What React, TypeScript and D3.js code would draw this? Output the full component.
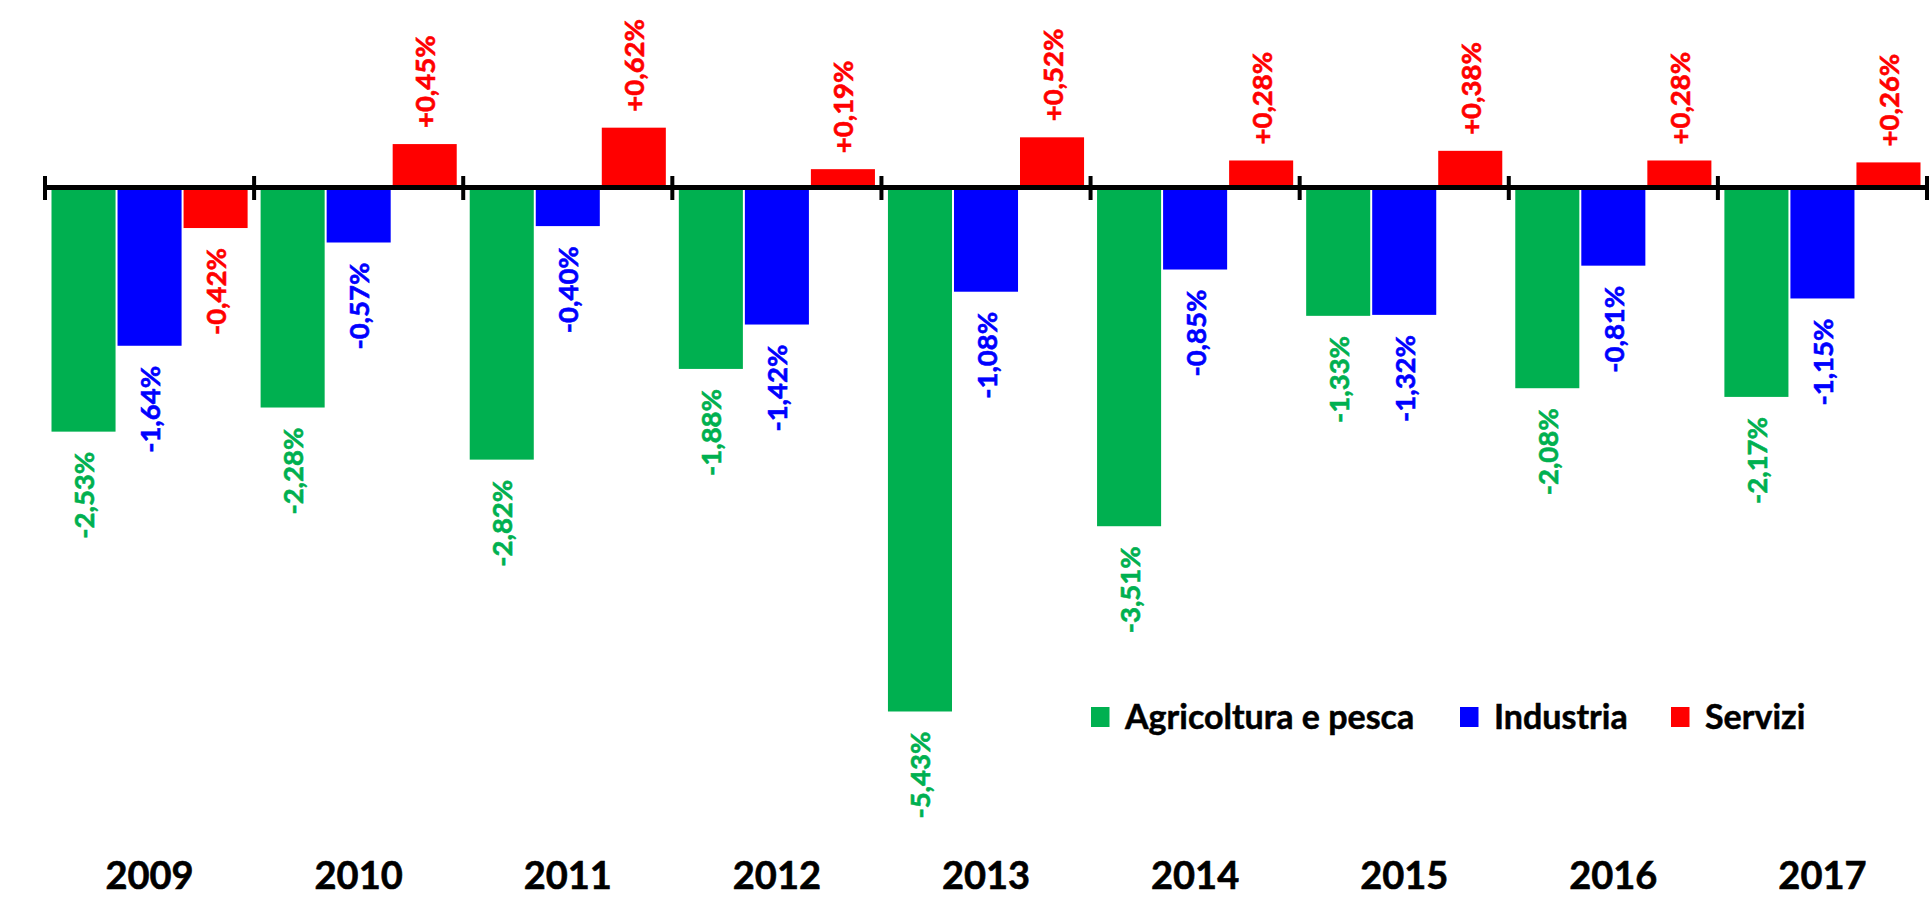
import React from "react";
import * as d3 from "d3";

const years = ["2009", "2010", "2011", "2012", "2013", "2014", "2015", "2016", "2017"];
const seriesNames = ["Agricoltura e pesca", "Industria", "Servizi"];
const seriesColors = ["#00B050", "#0000FF", "#FF0000"];
const agricoltura = [-2.53, -2.28, -2.82, -1.88, -5.43, -3.51, -1.33, -2.08, -2.17];
const industria = [-1.64, -0.57, -0.40, -1.42, -1.08, -0.85, -1.32, -0.81, -1.15];
const servizi = [-0.42, 0.45, 0.62, 0.19, 0.52, 0.28, 0.38, 0.28, 0.26];

const W = 1930;
const H = 913;
const FONT = "Lato, 'Open Sans', sans-serif";

function fmt(v: number) {
  return (v > 0 ? "+" : "-") + Math.abs(v).toFixed(2).replace(".", ",") + "%";
}

export default function App() {
  const series = [agricoltura, industria, servizi];
  const x0 = d3.scaleBand<string>().domain(years).range([45, 1927]).padding(0);
  const bw = x0.bandwidth();
  const x1 = d3
    .scaleBand<number>()
    .domain([0, 1, 2])
    .range([6.5, bw - 6.5])
    .paddingInner(0.03)
    .paddingOuter(0);
  const zeroY = 187.5;
  const pxPer = 96.5;
  const y = d3
    .scaleLinear()
    .domain([-6, 1.8])
    .range([zeroY + 6 * pxPer, zeroY - 1.8 * pxPer]);

  const tickXs = years.map((yr) => x0(yr) as number).concat([(x0(years[years.length - 1]) as number) + bw]);

  const legendX = [1091, 1460, 1671];

  return (
    <div style={{ position: "absolute", left: 0, top: 0 }}>
      <svg width={W} height={H} style={{ display: "block" }} fontFamily={FONT}>
        <rect x={0} y={0} width={W} height={H} fill="#ffffff" />
        {years.map((yr, i) => (
          <g key={yr}>
            {series.map((s, j) => {
              const v = s[i];
              const bx = (x0(yr) as number) + (x1(j) as number);
              const top = y(Math.max(0, v));
              const bot = y(Math.min(0, v));
              const cx = bx + x1.bandwidth() / 2;
              return (
                <g key={j}>
                  <rect x={bx} y={top} width={x1.bandwidth()} height={bot - top} fill={seriesColors[j]} />
                  <text
                    transform={`translate(${cx},${v < 0 ? bot + 20 : top - 16}) rotate(-90)`}
                    textAnchor={v < 0 ? "end" : "start"}
                    dominantBaseline="central"
                    fontSize={27.5}
                    fontWeight="bold"
                    fill={seriesColors[j]}
                    stroke={seriesColors[j]}
                    strokeWidth={0.6}
                  >
                    {fmt(v)}
                  </text>
                </g>
              );
            })}
            <text
              x={(x0(yr) as number) + bw / 2}
              y={889}
              textAnchor="middle"
              fontSize={38}
              fontWeight="bold"
              fill="#000"
              stroke="#000"
              strokeWidth={0.6}
            >
              {yr}
            </text>
          </g>
        ))}
        <line x1={tickXs[0]} x2={tickXs[tickXs.length - 1]} y1={y(0)} y2={y(0)} stroke="#000" strokeWidth={5} />
        {tickXs.map((tx, i) => (
          <line key={i} x1={tx} x2={tx} y1={176} y2={200} stroke="#000" strokeWidth={4} />
        ))}
        {seriesNames.map((name, j) => (
          <g key={name}>
            <rect x={legendX[j]} y={707} width={18.5} height={20} fill={seriesColors[j]} />
            <text
              x={legendX[j] + 34}
              y={729}
              fontSize={34}
              fontWeight="bold"
              fill="#000"
              stroke="#000"
              strokeWidth={0.5}
            >
              {name}
            </text>
          </g>
        ))}
      </svg>
    </div>
  );
}
